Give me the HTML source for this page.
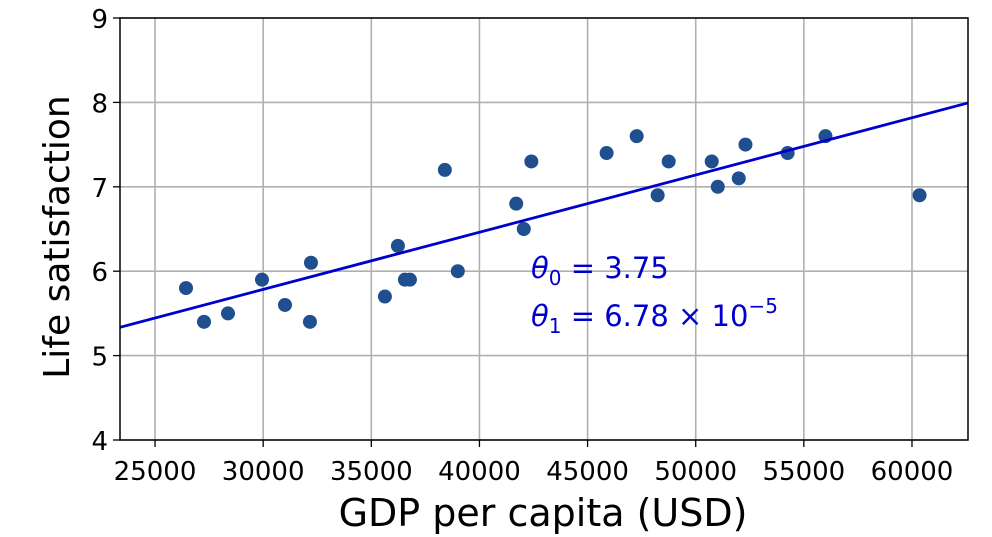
<!DOCTYPE html>
<html><head><meta charset="utf-8">
<style>
html,body{margin:0;padding:0;background:#fff;}
svg{display:block;font-family:"DejaVu Sans","Liberation Sans",sans-serif;}
</style></head>
<body>
<svg id="chart" width="992" height="537" viewBox="0 0 992 537"></svg>
<script>
const gdp = [26432,27264,28373,29945,31008,32210,32163,35629,36230,36554,36785,38400,39000,41700,42050,42400,45880,47270,48240,48750,50740,51020,51990,52300,54250,56000,60350];
const lifeSat = [5.8,5.4,5.5,5.9,5.6,6.1,5.4,5.7,6.3,5.9,5.9,7.2,6.0,6.8,6.5,7.3,7.4,7.6,6.9,7.3,7.3,7.0,7.1,7.5,7.4,7.6,6.9];
const xTicks = [25000,30000,35000,40000,45000,50000,55000,60000];
const yTicks = [4,5,6,7,8,9];
const theta0 = 3.75;
const theta1 = 6.78e-5;

const NS="http://www.w3.org/2000/svg";
const svg=document.getElementById('chart');
const L=120,R=968,T=18,B=440, xMin=23380,xMax=62590,yMin=4,yMax=9;
const sx=v=>L+(v-xMin)/(xMax-xMin)*(R-L);
const sy=v=>B-(v-yMin)/(yMax-yMin)*(B-T);
function mk(tag,attrs,parent){const e=document.createElementNS(NS,tag);for(const k in attrs)e.setAttribute(k,attrs[k]);(parent||svg).appendChild(e);return e;}

const grid=mk('g',{});


xTicks.forEach(t=>{
  const l=mk('line',{x1:sx(t),x2:sx(t),y1:T,y2:B,stroke:'#b0b0b0','stroke-width':1.6},grid);
  
  
  const tk=mk('line',{x1:sx(t),x2:sx(t),y1:B,y2:B+7,stroke:'#000','stroke-width':1.3});
  
  
  const tx=mk('text',{x:sx(t),y:480,'text-anchor':'middle','font-size':26,fill:'#000'});
  tx.textContent=t;
  
  
});
yTicks.forEach(t=>{
  const l=mk('line',{x1:L,x2:R,y1:sy(t),y2:sy(t),stroke:'#b0b0b0','stroke-width':1.6},grid);
  
  
  const tk=mk('line',{x1:L-7,x2:L,y1:sy(t),y2:sy(t),stroke:'#000','stroke-width':1.3});
  
  
  const tx=mk('text',{x:L-12,y:sy(t)+10,'text-anchor':'end','font-size':26,fill:'#000'});
  tx.textContent=t;
  
  
});

const pts=mk('g',{});


gdp.forEach((g,i)=>{
  const c=mk('circle',{cx:sx(g),cy:sy(lifeSat[i]),r:7,fill:'#1f4f8f'},pts);
  
  
});

const fl=mk('line',{x1:sx(xMin),y1:sy(theta0+theta1*xMin),x2:sx(xMax),y2:sy(theta0+theta1*xMax),stroke:'#0000cc','stroke-width':2.8});



const frame=mk('rect',{x:L,y:T,width:R-L,height:B-T,fill:'none',stroke:'#000','stroke-width':1.5});



const a1=mk('text',{x:531,y:278,'font-size':29,fill:'#0000cc'});
a1.innerHTML='<tspan font-style="italic">θ</tspan><tspan font-size="20" dy="7">0</tspan><tspan dy="-7"> = 3.75</tspan>';


const a2=mk('text',{x:531,y:326,'font-size':29,fill:'#0000cc'});
a2.innerHTML='<tspan font-style="italic">θ</tspan><tspan font-size="20" dy="7">1</tspan><tspan dy="-7"> = 6.78 × 10</tspan><tspan font-size="20" dy="-13">−5</tspan>';



const xl=mk('text',{x:543,y:526,'text-anchor':'middle','font-size':38,fill:'#000'});
xl.textContent='GDP per capita (USD)';


const yl=mk('text',{x:0,y:0,'text-anchor':'middle','font-size':36,fill:'#000',transform:'translate(69,237) rotate(-90)'});
yl.textContent='Life satisfaction';


</script>
</body></html>
